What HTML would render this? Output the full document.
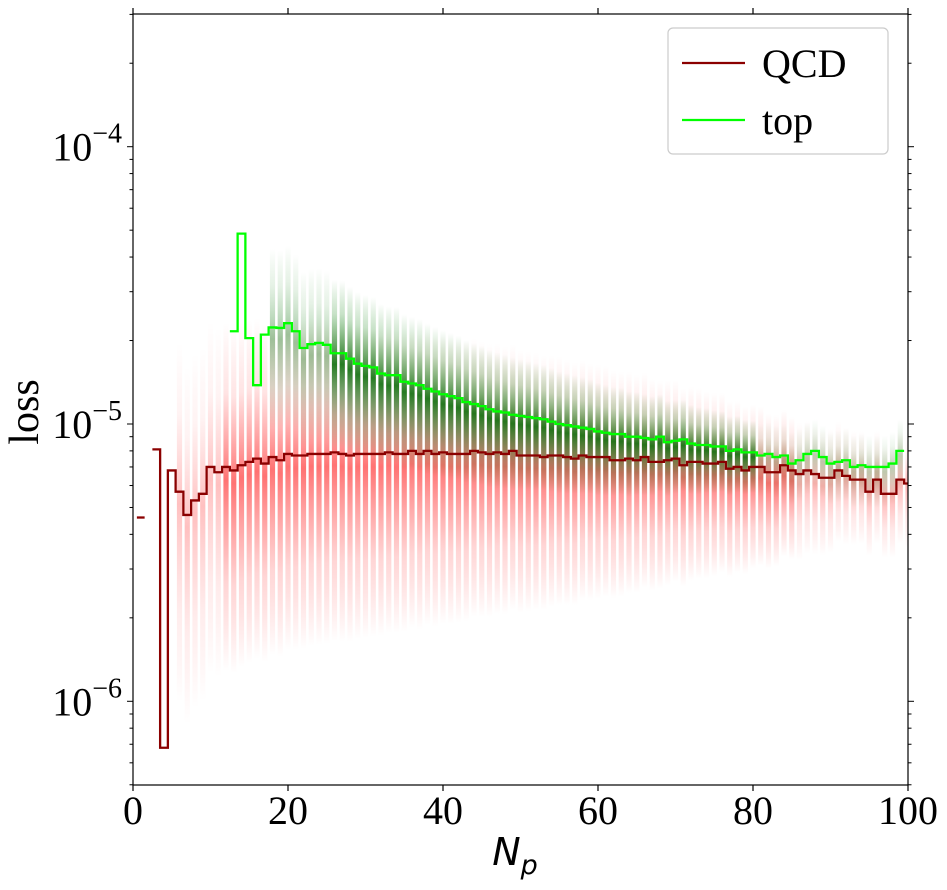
<!DOCTYPE html>
<html><head><meta charset="utf-8"><style>
html,body{margin:0;padding:0;background:#fff;overflow:hidden;width:947px;height:890px}
svg{display:block}
svg text{font-family:"Liberation Serif",serif;fill:#000}
</style></head><body>
<svg id="chart" width="947" height="890" viewBox="0 0 947 890" xmlns="http://www.w3.org/2000/svg">
<defs>
<linearGradient id="gr" x1="0" y1="0" x2="0" y2="1">
<stop offset="0" stop-color="#ff0000" stop-opacity="0"/>
<stop offset="0.2" stop-color="#ff2020" stop-opacity="0.12"/>
<stop offset="0.45" stop-color="#ff0000" stop-opacity="0.55"/>
<stop offset="0.75" stop-color="#ff3030" stop-opacity="0.2"/>
<stop offset="1" stop-color="#ff0000" stop-opacity="0"/>
</linearGradient>
<linearGradient id="gg" x1="0" y1="0" x2="0" y2="1">
<stop offset="0" stop-color="#008000" stop-opacity="0"/>
<stop offset="0.2" stop-color="#208a20" stop-opacity="0.25"/>
<stop offset="0.5" stop-color="#006800" stop-opacity="0.85"/>
<stop offset="0.8" stop-color="#207020" stop-opacity="0.3"/>
<stop offset="1" stop-color="#008000" stop-opacity="0"/>
</linearGradient>
<clipPath id="clip"><rect x="133" y="14" width="775" height="771"/></clipPath>
</defs>
<g id="scatter" clip-path="url(#clip)"></g>
<g id="lines" clip-path="url(#clip)"></g>
<rect x="133" y="14" width="775" height="771" fill="none" stroke="#000" stroke-width="1.2"/>
<g id="axes"></g>
<text x="38" y="412" font-size="42" text-anchor="middle" transform="rotate(-90 38 412)">loss</text>
<text x="515" y="865" font-size="38" text-anchor="middle" style="font-family:'DejaVu Sans',sans-serif;font-style:italic">N<tspan font-size="27" dy="9">p</tspan></text>
<g>
<rect x="668" y="28" width="220" height="126" rx="5" fill="#fff" fill-opacity="0.85" stroke="#ccc" stroke-width="1.2"/>
<g><line x1="682" y1="63" x2="745" y2="63" stroke="#8b0000" stroke-width="2.2"/><text x="762" y="77" font-size="40">QCD</text></g>
<g><line x1="682" y1="120" x2="745" y2="120" stroke="#00ff00" stroke-width="2.2"/><text x="762" y="134" font-size="40">top</text></g>
</g>
</svg>
<script>
const xTicks=[0,20,40,60,80,100];
const yDecades=[-6,-5,-4];
const qcdBins=[1,3,4,5,6,7,8,9,10,11,12,13,14,15,16,17,18,19,20,21,22,23,24,25,26,27,28,29,30,31,32,33,34,35,36,37,38,39,40,41,42,43,44,45,46,47,48,49,50,51,52,53,54,55,56,57,58,59,60,61,62,63,64,65,66,67,68,69,70,71,72,73,74,75,76,77,78,79,80,81,82,83,84,85,86,87,88,89,90,91,92,93,94,95,96,97,98,99,100];
const qcdLoss=[4.6e-6,8.1e-6,0.68e-6,6.8e-6,5.7e-6,4.7e-6,5.3e-6,5.6e-6,7.0e-6,6.7e-6,7.0e-6,6.8e-6,7.1e-6,7.3e-6,7.5e-6,7.2e-6,7.6e-6,7.4e-6,7.8e-6,7.7e-6,7.7e-6,7.8e-6,7.8e-6,7.8e-6,7.9e-6,7.8e-6,7.7e-6,7.8e-6,7.8e-6,7.8e-6,7.8e-6,7.9e-6,7.8e-6,7.8e-6,8.0e-6,7.8e-6,8.0e-6,7.8e-6,7.9e-6,7.8e-6,7.8e-6,7.8e-6,8.0e-6,7.9e-6,7.8e-6,7.9e-6,7.8e-6,8.0e-6,7.7e-6,7.7e-6,7.7e-6,7.6e-6,7.7e-6,7.7e-6,7.6e-6,7.5e-6,7.7e-6,7.6e-6,7.6e-6,7.6e-6,7.4e-6,7.4e-6,7.5e-6,7.4e-6,7.6e-6,7.3e-6,7.3e-6,7.4e-6,7.5e-6,7.1e-6,7.3e-6,7.3e-6,7.2e-6,7.2e-6,7.3e-6,6.9e-6,7.0e-6,6.8e-6,7.0e-6,7.0e-6,6.7e-6,6.7e-6,7.1e-6,6.8e-6,6.6e-6,6.8e-6,6.6e-6,6.4e-6,6.4e-6,6.8e-6,6.5e-6,6.3e-6,6.3e-6,5.7e-6,6.3e-6,5.6e-6,5.6e-6,6.3e-6,6.1e-6];
const topBins=[13,14,15,16,17,18,19,20,21,22,23,24,25,26,27,28,29,30,31,32,33,34,35,36,37,38,39,40,41,42,43,44,45,46,47,48,49,50,51,52,53,54,55,56,57,58,59,60,61,62,63,64,65,66,67,68,69,70,71,72,73,74,75,76,77,78,79,80,81,82,83,84,85,86,87,88,89,90,91,92,93,94,95,96,97,98,99,100];
const topLoss=[2.16e-5,4.86e-5,2.04e-5,1.38e-5,2.1e-5,2.23e-5,2.22e-5,2.31e-5,2.16e-5,1.88e-5,1.94e-5,1.96e-5,1.93e-5,1.8e-5,1.8e-5,1.72e-5,1.65e-5,1.62e-5,1.6e-5,1.52e-5,1.5e-5,1.5e-5,1.42e-5,1.4e-5,1.38e-5,1.34e-5,1.31e-5,1.28e-5,1.26e-5,1.24e-5,1.2e-5,1.18e-5,1.16e-5,1.13e-5,1.11e-5,1.1e-5,1.08e-5,1.07e-5,1.06e-5,1.05e-5,1.04e-5,1.02e-5,1.0e-5,0.99e-5,0.98e-5,0.97e-5,0.96e-5,0.94e-5,0.93e-5,0.92e-5,0.92e-5,0.9e-5,0.9e-5,0.89e-5,0.88e-5,0.9e-5,0.86e-5,0.87e-5,0.88e-5,0.85e-5,0.84e-5,0.84e-5,0.83e-5,0.83e-5,0.8e-5,0.81e-5,0.79e-5,0.79e-5,0.77e-5,0.78e-5,0.76e-5,0.77e-5,0.72e-5,0.74e-5,0.78e-5,0.8e-5,0.76e-5,0.72e-5,0.73e-5,0.74e-5,0.70e-5,0.71e-5,0.70e-5,0.70e-5,0.70e-5,0.72e-5,0.80e-5];
const NS="http://www.w3.org/2000/svg";
const X0=133,X1=908,Y14=146.7,DEC=277.3;
const xs=v=>X0+(v/100)*(X1-X0);
const ys=v=>Y14+(-4-Math.log10(v))*DEC;
function mk(tag,attrs,parent){const e=document.createElementNS(NS,tag);for(const k in attrs)e.setAttribute(k,attrs[k]);parent.appendChild(e);return e;}
const sc=document.getElementById('scatter');
qcdBins.forEach((b,i)=>{if(b<6)return;const v=qcdLoss[i];
const fu=Math.max(1.5,3.6-2.4*b/100), fd=Math.max(1.7,6.0-4.6*b/100);
const op=b<12?0.45:(b>85?0.55:1);
const r=mk('rect',{x:xs(b)-2.6,y:ys(v*fu),width:5.2,height:ys(v/fd)-ys(v*fu),fill:'url(#gr)',opacity:op},sc);

});
topBins.forEach((b,i)=>{if(b<18)return;const v=topLoss[i];
const fu=Math.max(1.3,1.9-0.6*(b-20)/60), fd=Math.max(1.4,2.3-0.9*(b-20)/60);
const r=mk('rect',{x:xs(b)-2.6,y:ys(v*fu),width:5.2,height:ys(v/fd)-ys(v*fu),fill:'url(#gg)',opacity:b>80?0.3:(b<26?0.45:1)},sc);

});
const ln=document.getElementById('lines');
function step(bins,vals,color,name){
let segs=[];let cur=[];
bins.forEach((b,i)=>{const prev=bins[i-1];if(i>0&&b!==prev+1){segs.push(cur);cur=[];}
const y=ys(vals[i]);cur.push([xs(b-0.5),y],[xs(b+0.5),y]);});
segs.push(cur);
segs.forEach(s=>{const p=mk('polyline',{points:s.map(q=>q.join(',')).join(' '),fill:'none',stroke:color,'stroke-width':2.3},ln);

});}
step(qcdBins,qcdLoss,'#8b0000','qcd-step-line');
step(topBins,topLoss,'#00ff00','top-step-line');
const ax=document.getElementById('axes');
xTicks.forEach(t=>{const x=xs(t);
mk('line',{x1:x,y1:785,x2:x,y2:791,stroke:'#000','stroke-width':1.2},ax);
mk('line',{x1:x,y1:14,x2:x,y2:8,stroke:'#000','stroke-width':1.2},ax);
const tx=mk('text',{x:x,y:824,'font-size':40,'text-anchor':'middle'},ax);tx.textContent=t;

});
for(let d=-7;d<=-4;d++){for(let m=1;m<10;m++){const y=ys(m*Math.pow(10,d));if(y<14||y>785)continue;const L=m===1?6:3.5;
mk('line',{x1:X0,y1:y,x2:X0-L,y2:y,stroke:'#000','stroke-width':1},ax);
mk('line',{x1:X1,y1:y,x2:X1+L,y2:y,stroke:'#000','stroke-width':1},ax);}}
yDecades.forEach(d=>{const y=ys(Math.pow(10,d));
const t=mk('text',{x:122,y:y+14,'font-size':40,'text-anchor':'end'},ax);
t.innerHTML='10<tspan font-size="28" dy="-18">\u2212'+(-d)+'</tspan>';

});
</script>
</body></html>
